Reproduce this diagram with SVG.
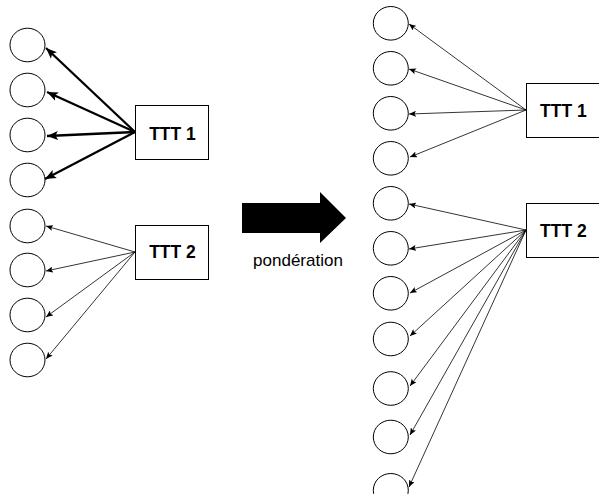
<svg xmlns="http://www.w3.org/2000/svg" width="599" height="494" viewBox="0 0 599 494">
<style>
.c{fill:#fff;stroke:#000;stroke-width:1}
.b{fill:#fff;stroke:#000;stroke-width:1}
.t{font-family:"Liberation Sans",Arial,sans-serif;font-weight:bold;font-size:17.5px;fill:#000}
.p{font-family:"Liberation Sans",Arial,sans-serif;font-size:17px;fill:#000}
.thick{stroke:#000;stroke-width:2.3;fill:none;marker-end:url(#hb)}
.thin{stroke:#000;stroke-width:0.8;fill:none;marker-end:url(#hs)}
</style>
<defs>
<marker id="hb" markerUnits="userSpaceOnUse" markerWidth="12" markerHeight="10" refX="11" refY="5" orient="auto">
<path d="M0,0.5 L11,5 L0,9.5 L2.5,5 Z" fill="#000"/>
</marker>
<marker id="hs" markerUnits="userSpaceOnUse" markerWidth="8" markerHeight="6" refX="7" refY="3" orient="auto">
<path d="M0,0 L7,3 L0,6 L1.5,3 Z" fill="#000"/>
</marker>
</defs>
<g id="connectors">
<line class="thick" x1="135" y1="132" x2="46" y2="48"/>
<line class="thick" x1="135" y1="132" x2="47" y2="92"/>
<line class="thick" x1="135" y1="132" x2="47" y2="136"/>
<line class="thick" x1="135" y1="132" x2="45" y2="179"/>
<line class="thin" x1="135" y1="252" x2="46" y2="226"/>
<line class="thin" x1="135" y1="252" x2="46" y2="271"/>
<line class="thin" x1="135" y1="252" x2="46" y2="317"/>
<line class="thin" x1="135" y1="252" x2="46" y2="359"/>
<line class="thin" x1="526" y1="110" x2="409" y2="24"/>
<line class="thin" x1="526" y1="110" x2="409" y2="69"/>
<line class="thin" x1="526" y1="110" x2="409" y2="114"/>
<line class="thin" x1="526" y1="110" x2="410" y2="157"/>
<line class="thin" x1="526" y1="230" x2="409" y2="204"/>
<line class="thin" x1="526" y1="230" x2="409" y2="249"/>
<line class="thin" x1="526" y1="230" x2="410" y2="293"/>
<line class="thin" x1="526" y1="230" x2="410" y2="336"/>
<line class="thin" x1="526" y1="230" x2="410" y2="386"/>
<line class="thin" x1="526" y1="230" x2="410" y2="435"/>
<line class="thin" x1="526" y1="230" x2="409" y2="487"/>
</g>
<g id="left-circles">
<ellipse id="l1" class="c" cx="27.5" cy="45" rx="17.5" ry="16.8"/>
<ellipse id="l2" class="c" cx="27.5" cy="90" rx="17.5" ry="16.8"/>
<ellipse id="l3" class="c" cx="27.5" cy="135" rx="17.5" ry="16.8"/>
<ellipse id="l4" class="c" cx="27.5" cy="180" rx="17.5" ry="16.8"/>
<ellipse id="l5" class="c" cx="27.5" cy="226" rx="17.5" ry="16.8"/>
<ellipse id="l6" class="c" cx="27.5" cy="270" rx="17.5" ry="16.8"/>
<ellipse id="l7" class="c" cx="27.5" cy="315" rx="17.5" ry="16.8"/>
<ellipse id="l8" class="c" cx="27.5" cy="360" rx="17.5" ry="16.8"/>
</g>
<g id="left-ttt1">
<rect class="b" x="135.5" y="105.5" width="73" height="54"/>
<text class="t" x="172.5" y="140" text-anchor="middle">TTT 1</text>
</g>
<g id="left-ttt2">
<rect class="b" x="135.5" y="225.5" width="73" height="54"/>
<text class="t" x="172.5" y="258" text-anchor="middle">TTT 2</text>
</g>
<g id="big-arrow">
<polygon points="242,203 320,203 320,192 346,218 320,243 320,233 242,233" fill="#000"/>
<text class="p" x="298" y="266" text-anchor="middle">pondération</text>
</g>
<g id="right-circles">
<ellipse id="r1" class="c" cx="390.8" cy="23.3" rx="17.5" ry="16.8"/>
<ellipse id="r2" class="c" cx="390.8" cy="68.3" rx="17.5" ry="16.8"/>
<ellipse id="r3" class="c" cx="390.8" cy="113.3" rx="17.5" ry="16.8"/>
<ellipse id="r4" class="c" cx="390.8" cy="158.3" rx="17.5" ry="16.8"/>
<ellipse id="r5" class="c" cx="390.8" cy="203.3" rx="17.5" ry="16.8"/>
<ellipse id="r6" class="c" cx="390.8" cy="248.3" rx="17.5" ry="16.8"/>
<ellipse id="r7" class="c" cx="390.8" cy="293.3" rx="17.5" ry="16.8"/>
<ellipse id="r8" class="c" cx="390.8" cy="339" rx="17.5" ry="16.8"/>
<ellipse id="r9" class="c" cx="390.8" cy="388.5" rx="17.5" ry="16.8"/>
<ellipse id="r10" class="c" cx="390.8" cy="437" rx="17.5" ry="16.8"/>
<ellipse id="r11" class="c" cx="390.8" cy="490.3" rx="17.5" ry="16.8"/>
</g>
<g id="right-ttt1">
<rect class="b" x="526.5" y="83.5" width="80" height="54"/>
<text class="t" x="540" y="117">TTT 1</text>
</g>
<g id="right-ttt2">
<rect class="b" x="526.5" y="203.5" width="80" height="54"/>
<text class="t" x="540" y="237">TTT 2</text>
</g>
</svg>
